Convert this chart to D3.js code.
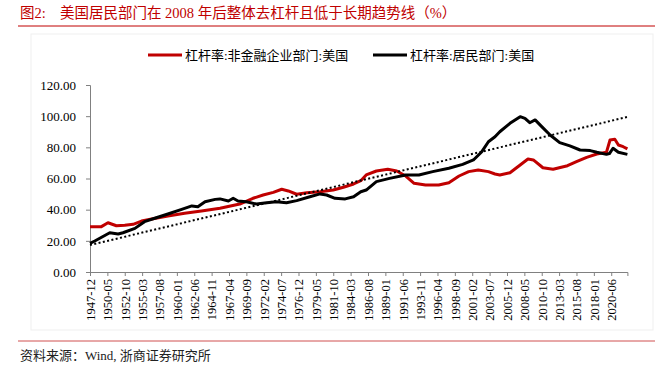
<!DOCTYPE html>
<html>
<head>
<meta charset="utf-8">
<script src="https://cdn.jsdelivr.net/npm/d3@7"></script>
<style>
  body { margin: 0; background: #fff; }
  text { font-family: "Liberation Serif", "Noto Sans CJK SC", serif; }
</style>
</head>
<body>
<div id="chart"></div>
<script>
// 杠杆率:非金融企业部门:美国
const corpDates = ["1947-12","1949-07","1950-06","1951-08","1952-10","1953-12","1955-02","1956-07","1958-10","1961-02",
  "1963-06","1966-01","1968-10","1970-08","1972-01","1973-06","1974-08","1975-07","1976-09","1978-02",
  "1979-12","1981-10","1983-03","1984-08","1985-08","1986-05","1987-10","1989-05","1990-08","1991-11",
  "1993-01","1994-08","1996-06","1997-11","1999-04","2000-08","2001-12","2003-05","2004-04","2004-12",
  "2006-05","2007-10","2008-11","2009-08","2010-12","2012-05","2014-05","2015-08","2017-01","2018-06",
  "2019-10","2020-04","2020-12","2021-06","2022-02","2022-09"]
const corpLeverage = [29.1,29.1,31.6,29.7,30.0,30.6,32.7,34.0,35.9,37.7,
  39.2,40.9,43.6,47.3,49.4,51.1,53.1,52.0,49.9,50.9,
  51.5,52.6,54.4,56.5,58.6,62.3,64.8,65.9,64.8,61.6,
  56.9,55.8,55.8,57.3,61.6,64.4,65.5,64.4,62.9,62.3,
  63.7,68.7,72.5,71.9,66.9,65.9,68.2,70.8,73.6,75.7,
  76.8,84.7,85.2,81.5,80.4,79.0]

// 杠杆率:居民部门:美国
const hhDates = ["1947-12","1948-08","1950-09","1951-11","1952-07","1954-03","1955-07","1956-12","1958-10","1960-09",
  "1962-02","1962-12","1963-12","1965-05","1966-01","1967-03","1967-11","1968-07","1969-09","1971-02",
  "1972-07","1973-11","1975-04","1976-09","1978-07","1979-12","1980-11","1982-01","1983-06","1984-08",
  "1985-08","1986-05","1987-10","1989-08","1991-11","1993-09","1995-08","1997-11","1999-10","2001-04",
  "2002-06","2003-05","2004-04","2004-12","2006-05","2007-10","2008-06","2009-02","2009-11","2010-10",
  "2011-12","2013-04","2014-09","2016-02","2017-07","2018-06","2019-10","2020-03","2020-09","2021-06","2022-09"]
const hhLeverage = [18.4,19.9,25.2,24.4,25.2,28.0,32.3,34.5,37.2,40.2,
  42.4,41.9,45.1,46.6,46.9,45.6,47.3,45.6,45.1,43.6,
  44.5,45.1,44.5,45.8,48.3,50.1,49.4,47.3,46.9,48.3,
  51.5,52.6,58.0,60.1,62.3,62.3,64.4,66.6,69.1,71.9,
  77.2,83.6,86.8,90.0,95.4,99.7,98.6,95.8,97.6,93.3,
  87.9,83.0,80.9,78.3,77.9,76.8,75.5,76.0,79.4,76.8,75.5]

// 长期趋势线
const trendDates = ["1947-12", "2022-09"]
const trendValues = [17.3, 99.5]

const yTicks = [0, 20, 40, 60, 80, 100, 120]
const xTickLabels = ["1947-12","1950-05","1952-10","1955-03","1957-08","1960-01","1962-06","1964-11","1967-04","1969-09",
  "1972-02","1974-07","1976-12","1979-05","1981-10","1984-03","1986-08","1989-01","1991-06","1993-11",
  "1996-04","1998-09","2001-02","2003-07","2005-12","2008-05","2010-10","2013-03","2015-08","2018-01","2020-06"]

const legendItems = [
  { name: "杠杆率:非金融企业部门:美国", color: "#c00000" },
  { name: "杠杆率:居民部门:美国", color: "#000000" }
]

// month index counted from 1947-12
const monthIdx = s => {
    const [y, m] = s.split("-").map(Number)
    return (y - 1947) * 12 + (m - 12)
}

const width = 660, height = 370

const svg = d3.select("#chart").append("svg")
    .attr("width", width)
    .attr("height", height)

// faint chart area border
svg.append("rect")
    .attr("x", 31).attr("y", 34)
    .attr("width", 622).attr("height", 296)
    .attr("fill", "none")
    .attr("stroke", "#efefef")

// title
svg.append("text")
    .attr("x", 20).attr("y", 18)
    .attr("fill", "#c00000")
    .style("font-size", "14.5px")
    .text("图2:")
svg.append("text")
    .attr("x", 60).attr("y", 18)
    .attr("fill", "#c00000")
    .style("font-size", "14.5px")
    .text("美国居民部门在 2008 年后整体去杠杆且低于长期趋势线（%）")

svg.append("line")
    .attr("x1", 18).attr("x2", 655)
    .attr("y1", 26).attr("y2", 26)
    .attr("stroke", "#c00000")
    .attr("stroke-width", 1)

const x = d3.scaleLinear()
    .domain([0, monthIdx("2022-09")])
    .range([90, 627.4])

const y = d3.scaleLinear()
    .domain([0, 120])
    .range([272, 85])

// y axis
const yAxis = svg.append("g")
    .attr("transform", "translate(90,0)")
    .call(d3.axisLeft(y).tickValues(yTicks).tickSize(4).tickPadding(10).tickFormat(d3.format(".2f")))
yAxis.selectAll("text").style("font-size", "13px").attr("fill", "#000")
yAxis.selectAll("line, path").attr("stroke", "#808080")

// x axis
const xAxis = svg.append("g")
    .attr("transform", "translate(0,272)")
    .call(d3.axisBottom(x)
        .tickValues(xTickLabels.map(monthIdx))
        .tickSize(4)
        .tickFormat((d, i) => xTickLabels[i]))
xAxis.selectAll("line, path").attr("stroke", "#808080")
xAxis.selectAll("text")
    .style("font-size", "12.5px")
    .attr("fill", "#000")
    .attr("text-anchor", "end")
    .attr("dy", "0.35em")
    .attr("transform", "rotate(-90)")
    .attr("x", -7)
    .attr("y", 0)

const line = d3.line()
    .x(d => x(monthIdx(d[0])))
    .y(d => y(d[1]))

svg.append("path")
    .datum(corpDates.map((d, i) => [d, corpLeverage[i]]))
    .attr("d", line)
    .attr("fill", "none")
    .attr("stroke", "#c00000")
    .attr("stroke-width", 3)
    .attr("stroke-linejoin", "round")

svg.append("path")
    .datum(hhDates.map((d, i) => [d, hhLeverage[i]]))
    .attr("d", line)
    .attr("fill", "none")
    .attr("stroke", "#000")
    .attr("stroke-width", 3)
    .attr("stroke-linejoin", "round")

svg.append("path")
    .datum(trendDates.map((d, i) => [d, trendValues[i]]))
    .attr("d", line)
    .attr("fill", "none")
    .attr("stroke", "#000")
    .attr("stroke-width", 2)
    .attr("stroke-dasharray", "2,2.4")

// legend
const legendX = [148, 373]
const legend = svg.selectAll(".legend")
    .data(legendItems)
    .join("g")
    .attr("class", "legend")
    .attr("transform", (d, i) => `translate(${legendX[i]},55)`)
legend.append("line")
    .attr("x1", 0).attr("x2", 34)
    .attr("stroke", d => d.color)
    .attr("stroke-width", 3)
legend.append("text")
    .attr("x", 37).attr("dy", "0.35em")
    .style("font-size", "13px")
    .attr("fill", "#000")
    .text(d => d.name)

// source
svg.append("line")
    .attr("x1", 18).attr("x2", 655)
    .attr("y1", 341).attr("y2", 341)
    .attr("stroke", "#d05050")
    .attr("stroke-width", 1)

svg.append("text")
    .attr("x", 20).attr("y", 355)
    .attr("dy", "0.35em")
    .style("font-size", "13px")
    .attr("fill", "#222")
    .text("资料来源：Wind, 浙商证券研究所")
</script>
</body>
</html>
